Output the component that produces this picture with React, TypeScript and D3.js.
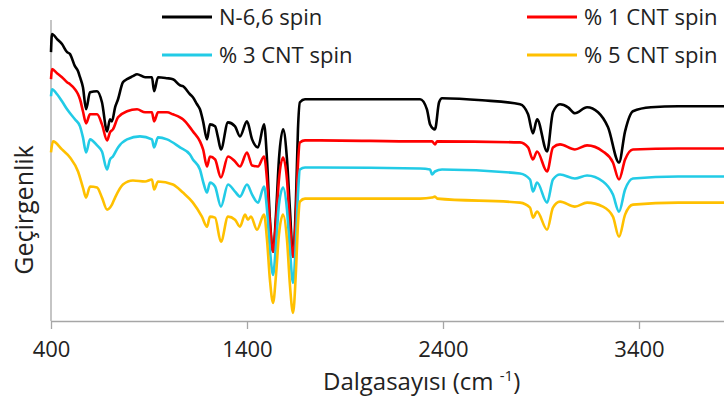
import { useEffect, useRef } from "react";
import * as d3 from "d3";

// wavenumber (cm-1), transmittance (arbitrary units, offset spectra)
const n66Spin: [number, number][] = [
  [400, 268], [405, 286], [431, 281], [456, 276], [482, 268], [497, 266], [522, 254], [538, 249],
  [548, 243], [563, 233], [579, 211], [599, 228], [635, 229], [660, 218], [686, 189], [701, 201],
  [711, 199], [727, 213], [742, 221], [767, 238], [788, 241], [818, 244], [839, 246], [880, 243],
  [915, 243], [926, 229], [946, 243], [992, 242], [1022, 241], [1058, 235], [1073, 234], [1109, 226],
  [1124, 223], [1145, 216], [1160, 211], [1176, 199], [1196, 181], [1211, 196], [1237, 194], [1252, 183],
  [1267, 171], [1303, 198], [1339, 194], [1364, 184], [1400, 199], [1426, 181], [1456, 173], [1487, 196],
  [1502, 161], [1517, 101], [1533, 69], [1548, 106], [1563, 161], [1584, 191], [1604, 161], [1619, 111],
  [1635, 64], [1650, 121], [1660, 191], [1670, 218], [1696, 221], [1772, 221], [2000, 221], [2283, 221],
  [2318, 211], [2334, 196], [2359, 191], [2380, 218], [2395, 222], [2600, 220], [2793, 216], [2834, 206],
  [2859, 187], [2880, 201], [2931, 169], [2961, 208], [2997, 216], [3038, 213], [3073, 207], [3135, 213],
  [3191, 208], [3242, 193], [3298, 158], [3329, 189], [3369, 209], [3461, 213], [3600, 214], [4000, 214],
];

const cnt1Spin: [number, number][] = [
  [400, 241], [405, 251], [431, 247], [456, 243], [482, 238], [497, 236], [522, 231], [538, 226],
  [548, 221], [563, 209], [579, 197], [599, 206], [635, 206], [660, 196], [686, 180], [701, 188],
  [716, 191], [742, 203], [788, 209], [839, 211], [880, 208], [915, 208], [926, 199], [946, 208],
  [992, 208], [1022, 206], [1058, 203], [1073, 201], [1109, 193], [1124, 189], [1160, 179], [1176, 171],
  [1196, 154], [1211, 164], [1237, 161], [1267, 143], [1303, 164], [1339, 159], [1364, 154], [1400, 168],
  [1426, 155], [1456, 154], [1487, 164], [1502, 141], [1517, 96], [1533, 69], [1548, 99], [1563, 141],
  [1584, 163], [1604, 141], [1619, 96], [1635, 64], [1650, 106], [1660, 156], [1670, 178], [1696, 180],
  [1772, 180], [2283, 179], [2344, 179], [2359, 176], [2370, 179], [2793, 178], [2834, 173], [2859, 161],
  [2880, 169], [2931, 149], [2961, 173], [2997, 176], [3073, 171], [3135, 175], [3216, 169], [3267, 158],
  [3298, 141], [3329, 161], [3369, 171], [3600, 172], [4000, 172],
];

const cnt3Spin: [number, number][] = [
  [400, 224], [405, 231], [431, 226], [456, 219], [482, 211], [522, 201], [548, 194], [563, 183],
  [579, 168], [599, 181], [635, 175], [660, 169], [686, 151], [701, 161], [716, 164], [742, 173],
  [788, 181], [854, 184], [915, 181], [926, 173], [946, 183], [992, 181], [1058, 173], [1109, 166],
  [1124, 161], [1160, 151], [1176, 139], [1196, 128], [1211, 138], [1237, 134], [1267, 114], [1303, 136],
  [1339, 129], [1364, 124], [1400, 136], [1426, 126], [1456, 118], [1487, 134], [1502, 111], [1517, 71],
  [1533, 46], [1548, 76], [1563, 116], [1584, 133], [1604, 111], [1619, 71], [1635, 38], [1650, 81],
  [1660, 126], [1670, 151], [1696, 153], [1772, 153], [2283, 152], [2334, 151], [2344, 146], [2359, 149],
  [2395, 151], [2793, 147], [2844, 141], [2859, 129], [2880, 138], [2931, 118], [2961, 141], [2997, 146],
  [3073, 142], [3135, 145], [3216, 139], [3267, 126], [3298, 109], [3329, 131], [3369, 142], [3600, 144],
  [4000, 144],
];

const cnt5Spin: [number, number][] = [
  [400, 168], [410, 179], [456, 171], [497, 163], [538, 149], [563, 133], [579, 123], [599, 134],
  [635, 133], [660, 123], [686, 111], [711, 116], [727, 123], [767, 136], [818, 140], [880, 139],
  [915, 141], [926, 131], [946, 139], [1022, 136], [1073, 128], [1124, 118], [1170, 104], [1196, 94],
  [1211, 104], [1237, 103], [1267, 79], [1303, 104], [1339, 101], [1364, 94], [1390, 106], [1405, 101],
  [1420, 104], [1451, 91], [1487, 106], [1502, 81], [1517, 41], [1533, 18], [1548, 46], [1563, 86],
  [1584, 106], [1604, 81], [1619, 36], [1635, 8], [1650, 51], [1660, 96], [1670, 119], [1696, 122],
  [1772, 122], [2283, 122], [2344, 123], [2359, 124], [2370, 122], [2793, 118], [2844, 113], [2859, 103],
  [2880, 109], [2931, 91], [2961, 113], [2997, 119], [3073, 114], [3135, 118], [3216, 114], [3267, 104],
  [3298, 84], [3329, 106], [3369, 116], [3600, 118], [4000, 118],
];

const seriesNames = ["N-6,6 spin", "% 1 CNT spin", "% 3 CNT spin", "% 5 CNT spin"];
const seriesData = [n66Spin, cnt1Spin, cnt3Spin, cnt5Spin];
const seriesColors = ["#000000", "#ff0000", "#22cbe6", "#ffc000"];
const xTicks = [400, 1400, 2400, 3400];

const FONT = "Open Sans, sans-serif";

const App = () => {
  const chartRef = useRef<SVGSVGElement | null>(null);

  useEffect(() => {
    const margin = { top: 20, left: 51, bottom: 80 };
    const fullH = 401;
    const height = fullH - margin.top - margin.bottom;

    const svg = d3.select(chartRef.current);
    svg.selectAll("*").remove();

    const x = d3.scaleLinear().domain([400, 4000]).range([margin.left, margin.left + 3600 * 0.196]);
    const y = d3.scaleLinear().domain([0, 300]).range([margin.top + height, margin.top]);

    const g = svg.append("g");

    // axes
    const xAxis = g.append("g")
      .attr("transform", `translate(0, ${margin.top + height})`)
      .call(d3.axisBottom(x).tickValues(xTicks).tickFormat(d3.format("d")).tickSize(8).tickPadding(12).tickSizeOuter(0));
    xAxis.select(".domain").attr("stroke", "#a6a6a6").attr("stroke-width", 1.3);
    xAxis.selectAll(".tick line").attr("stroke", "#a6a6a6").attr("stroke-width", 1.3);
    xAxis.selectAll(".tick text")
      .attr("fill", "#222")
      .style("font-family", FONT)
      .style("font-size", "22px");

    g.append("line")
      .attr("x1", margin.left).attr("x2", margin.left)
      .attr("y1", margin.top).attr("y2", margin.top + height)
      .attr("stroke", "#a6a6a6").attr("stroke-width", 1.3);

    const line = d3.line<[number, number]>()
      .x(d => x(d[0]))
      .y(d => y(d[1]))
      .curve(d3.curveMonotoneX);

    seriesData.forEach((s, i) => {
      g.append("path")
        .datum(s)
        .attr("d", line)
        .attr("fill", "none")
        .attr("stroke", seriesColors[i])
        .attr("stroke-width", 2.6)
        .attr("stroke-linejoin", "round");
    });

    // axis titles
    const xTitle = g.append("text")
      .attr("x", 323)
      .attr("y", 390)
      .attr("fill", "#222")
      .style("font-family", FONT)
      .style("font-size", "24px");
    xTitle.append("tspan").text("Dalgasayısı (cm ");
    xTitle.append("tspan").attr("dy", -9).style("font-size", "15px").text("-1");
    xTitle.append("tspan").attr("dy", 9).text(")");

    g.append("text")
      .attr("transform", `translate(33, 210) rotate(-90)`)
      .attr("text-anchor", "middle")
      .attr("fill", "#222")
      .style("font-family", FONT)
      .style("font-size", "25px")
      .text("Geçirgenlik");

    // legend
    const legendPos = [[162, 17], [527, 17], [162, 55], [527, 55]];
    seriesNames.forEach((name, i) => {
      const [lx, ly] = legendPos[i];
      g.append("line")
        .attr("x1", lx).attr("x2", lx + 50)
        .attr("y1", ly).attr("y2", ly)
        .attr("stroke", seriesColors[i])
        .attr("stroke-width", 3);
      g.append("text")
        .attr("x", lx + 57)
        .attr("y", ly + 8)
        .attr("fill", "#222")
        .style("font-family", FONT)
        .style("font-size", "22px")
        .text(name);
    });

    return () => {
      d3.select(chartRef.current).selectAll("*").remove();
    };
  }, []);

  return (
    <svg
      ref={chartRef}
      width={724}
      height={401}
      style={{ position: "absolute", left: 0, top: 0, background: "#fff" }}
    ></svg>
  );
};

export default App;
